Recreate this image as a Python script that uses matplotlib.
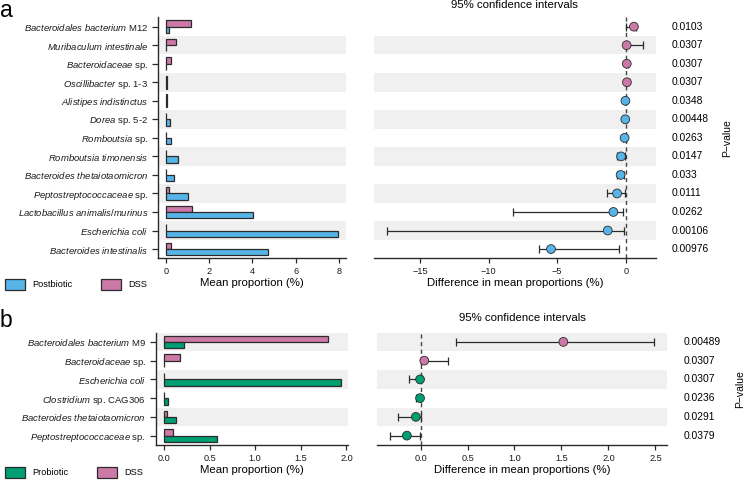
import numpy as np
import matplotlib
matplotlib.use("Agg")
import matplotlib.pyplot as plt
from matplotlib.patches import Patch
from matplotlib.transforms import blended_transform_factory

plt.rcParams['font.family'] = ['Liberation Sans', 'DejaVu Sans']
plt.rcParams['mathtext.fontset'] = 'custom'
plt.rcParams['mathtext.it'] = 'Liberation Sans:italic'
plt.rcParams['mathtext.rm'] = 'Liberation Sans'

# panel a: Postbiotic vs DSS  (italic part, plain part)
species_a = [("Bacteroidales bacterium", " M12"), ("Muribaculum intestinale", ""),
             ("Bacteroidaceae", " sp."), ("Oscillibacter", " sp. 1-3"),
             ("Alistipes indistinctus", ""), ("Dorea", " sp. 5-2"),
             ("Romboutsia", " sp."), ("Romboutsia timonensis", ""),
             ("Bacteroides thetaiotaomicron", ""), ("Peptostreptococcaceae", " sp."),
             ("Lactobacillus animalis/murinus", ""), ("Escherichia coli", ""),
             ("Bacteroides intestinalis", "")]
post_a = [0.14, 0.01, 0.01, 0.03, 0.04, 0.17, 0.25, 0.57, 0.38, 1.03, 4.04, 7.95, 4.70]
dss_a = [1.14, 0.46, 0.22, 0.03, 0.03, 0.02, 0.02, 0.02, 0.02, 0.12, 1.20, 0.02, 0.22]
diff_a = [0.60, 0.07, 0.08, 0.09, -0.02, -0.03, -0.08, -0.34, -0.37, -0.63, -0.90, -1.31, -5.45]
lo_a = [0.02, 0.0, 0.0, 0.0, -0.06, -0.10, -0.18, -0.66, -0.60, -1.39, -8.22, -17.45, -6.33]
hi_a = [0.75, 1.24, 0.16, 0.16, 0.03, 0.02, 0.0, -0.02, -0.10, -0.05, -0.17, -0.10, -0.46]
p_a = ["0.0103", "0.0307", "0.0307", "0.0307", "0.0348", "0.00448", "0.0263",
       "0.0147", "0.033", "0.0111", "0.0262", "0.00106", "0.00976"]

# panel b: Probiotic vs DSS
species_b = [("Bacteroidales bacterium", " M9"), ("Bacteroidaceae", " sp."),
             ("Escherichia coli", ""), ("Clostridium", " sp. CAG306"),
             ("Bacteroides thetaiotaomicron", ""), ("Peptostreptococcaceae", " sp.")]
prob_b = [0.22, 0.005, 1.94, 0.05, 0.13, 0.58]
dss_b = [1.80, 0.175, 0.005, 0.005, 0.035, 0.095]
diff_b = [1.52, 0.04, -0.005, -0.005, -0.05, -0.145]
lo_b = [0.38, 0.0, -0.12, -0.05, -0.24, -0.32]
hi_b = [2.48, 0.29, 0.01, 0.0, 0.0, -0.01]
p_b = ["0.00489", "0.0307", "0.0307", "0.0236", "0.0291", "0.0379"]

BLUE = "#56B4E9"
PINK = "#CC79A7"
GREEN = "#009E73"
BAND = "#F0F0F0"
EDGE = "#2b2b2b"

W, H = 744, 483
fig = plt.figure(figsize=(W / 100, H / 100), dpi=100)


def px_axes(x0, y0, x1, y1):
    return fig.add_axes([x0 / W, 1 - y1 / H, (x1 - x0) / W, (y1 - y0) / H])


def make_label(it, rest):
    return r"$\mathit{" + it.replace(" ", r"\ ") + "}$" + rest


def style_axis(ax):
    for s in ["top", "right"]:
        ax.spines[s].set_visible(False)
    for s in ["left", "bottom"]:
        ax.spines[s].set_color(EDGE)
        ax.spines[s].set_linewidth(1.0)
    ax.tick_params(colors=EDGE, labelcolor="#1a1a1a", width=0.9, length=3.5,
                   labelsize=6.6, pad=3)


def draw_panel(ax1, ax2, species, grp, dss, grp_col, diff, lo, hi, pvals,
               xlim1, xt1, xtl1, xlim2, xt2, xtl2, title_pad):
    n = len(species)
    pos = np.arange(n)
    for ax in (ax1, ax2):
        for i in pos:
            if (n - 1 - i) % 2 == 1:
                ax.axhspan(i - 0.5, i + 0.5, color=BAND, lw=0, zorder=0)
        ax.set_ylim(n - 0.5, -0.5)
        style_axis(ax)

    # mean proportion bars
    h = 0.34
    ax1.barh(pos - h / 2, dss, height=h, color=PINK, edgecolor=EDGE, lw=0.9, zorder=2)
    ax1.barh(pos + h / 2, grp, height=h, color=grp_col, edgecolor=EDGE, lw=0.9, zorder=2)
    ax1.set_yticks(pos)
    ax1.set_yticklabels([make_label(a, b) for a, b in species], fontsize=6.8)
    ax1.tick_params(axis="y", length=4.5, pad=2.5)
    ax1.set_xlim(*xlim1)
    ax1.set_xticks(xt1)
    ax1.set_xticklabels(xtl1)
    ax1.set_xlabel("Mean proportion (%)", fontsize=8.2, labelpad=1.5)

    # confidence intervals
    ax2.spines["left"].set_visible(False)
    ax2.set_yticks([])
    ax2.axvline(0, color="#444444", lw=1.0, ls=(0, (3, 2.5)), zorder=1)
    diff = np.array(diff)
    xerr = [diff - np.array(lo), np.array(hi) - diff]
    ax2.errorbar(diff, pos, xerr=xerr, fmt="none", ecolor=EDGE, elinewidth=0.9,
                 capsize=2.6, capthick=0.9, zorder=2)
    cols = [PINK if d > 0 else grp_col for d in diff]
    ax2.scatter(diff, pos, s=40, c=cols, edgecolors=EDGE, linewidths=0.6, zorder=3)
    ax2.set_xlim(*xlim2)
    ax2.set_xticks(xt2)
    ax2.set_xticklabels(xtl2)
    ax2.set_xlabel("Difference in mean proportions (%)", fontsize=8.2, labelpad=1.5)
    ax2.set_title("95% confidence intervals", fontsize=8.2, pad=title_pad)

    tr = blended_transform_factory(ax2.transAxes, ax2.transData)
    for i, p in zip(pos, pvals):
        ax2.text(1.058, i, p, transform=tr, va="center", ha="left", fontsize=7.4)
    ax2.text(1.252, 0.5, "P\u2212value", transform=ax2.transAxes, rotation=90,
             va="center", ha="center", fontsize=7.5)


axa1 = px_axes(158, 17.4, 346, 258.3)
axa2 = px_axes(374, 17.4, 655.7, 258.3)
axb1 = px_axes(155.7, 332.5, 348.3, 445)
axb2 = px_axes(377.3, 332.5, 666.7, 445)

draw_panel(axa1, axa2, species_a, post_a, dss_a, BLUE, diff_a, lo_a, hi_a, p_a,
           (-0.37, 8.33), [0, 2, 4, 6, 8], ["0", "2", "4", "6", "8"],
           (-18.37, 2.19), [-15, -10, -5, 0], ["\u221215", "\u221210", "\u22125", "0"], 6.5)
draw_panel(axb1, axb2, species_b, prob_b, dss_b, GREEN, diff_b, lo_b, hi_b, p_b,
           (-0.09, 2.02), [0, 0.5, 1.0, 1.5, 2.0], ["0.0", "0.5", "1.0", "1.5", "2.0"],
           (-0.46, 2.62), [0, 0.5, 1.0, 1.5, 2.0, 2.5],
           ["0.0", "0.5", "1.0", "1.5", "2.0", "2.5"], 8.5)

leg_kw = dict(loc="upper left", frameon=False, ncol=2, fontsize=6.6, borderpad=0,
              borderaxespad=0, handlelength=2.17, handleheight=1.45,
              handletextpad=0.76, columnspacing=3.2)
fig.legend(handles=[Patch(facecolor=BLUE, edgecolor=EDGE, lw=0.9, label="Postbiotic"),
                    Patch(facecolor=PINK, edgecolor=EDGE, lw=0.9, label="DSS")],
           bbox_to_anchor=(5 / W, 1 - 279 / H), **leg_kw)
fig.legend(handles=[Patch(facecolor=GREEN, edgecolor=EDGE, lw=0.9, label="Probiotic"),
                    Patch(facecolor=PINK, edgecolor=EDGE, lw=0.9, label="DSS")],
           bbox_to_anchor=(5 / W, 1 - 467 / H), **leg_kw)

fig.text(0.0, 1 - 16.7 / H, "a", fontsize=16.5, va="baseline", ha="left")
fig.text(0.0, 1 - 326.7 / H, "b", fontsize=16.5, va="baseline", ha="left")

fig.savefig("out.png", dpi=100)
